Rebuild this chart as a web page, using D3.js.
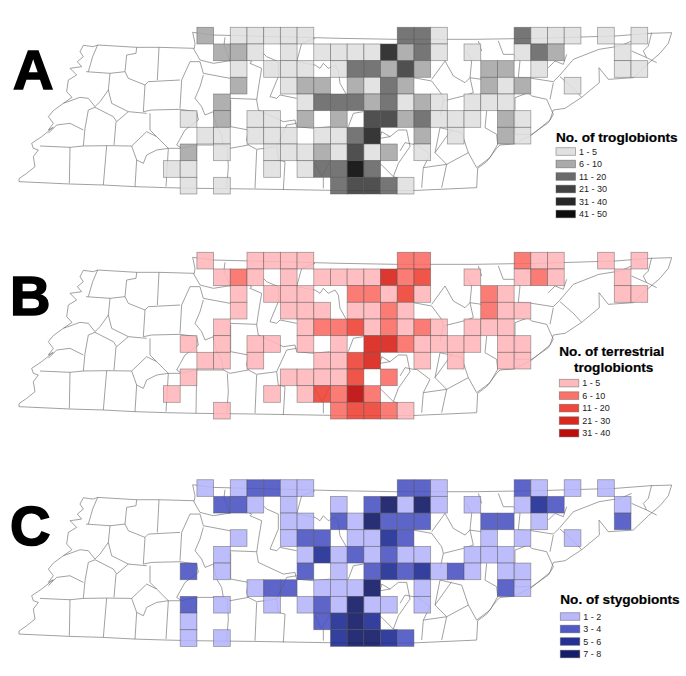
<!DOCTYPE html>
<html>
<head>
<meta charset="utf-8">
<script src="https://d3js.org/d3.v7.min.js"></script>
<style>
  html, body { margin: 0; background: #fff; }
  svg { display: block; }
  text { font-family: "Liberation Sans", Arial, sans-serif; }
</style>
</head>
<body>
<div id="chart"></div>
<script>
// class of each grid square, row by row (0 = no record)
const troglobionts = [
  [0,0,2,0,1,1,1,1,1,0,0,0,0,0,3,3,1,0,0,0,0,3,1,1,1,0,1,0,1],
  [0,0,0,2,2,1,0,1,0,1,1,1,1,5,2,3,1,0,1,0,0,1,3,2,0,0,0,1,0],
  [0,0,0,0,1,0,1,1,1,0,1,3,3,2,4,2,0,0,0,2,2,0,1,0,0,0,0,1,1],
  [0,0,0,0,2,0,0,1,2,2,0,2,1,3,2,0,0,0,0,2,1,2,0,0,1],
  [0,0,0,2,0,0,0,0,1,3,3,3,2,3,1,2,1,0,1,1,1],
  [0,1,0,2,0,1,1,0,2,0,2,0,4,4,2,3,1,1,1,0,2,1],
  [0,0,1,1,0,1,1,1,0,1,1,3,5,0,0,2,0,1,0,0,2,1],
  [0,2,0,1,0,0,1,1,1,2,1,4,1,2,0,1],
  [1,1,0,0,0,0,1,0,1,3,3,6,3],
  [0,1,0,1,0,0,0,0,0,0,3,4,4,3,1]
];
const terrestrial = [
  [0,0,1,0,0,1,1,1,1,0,0,0,0,0,2,2,0,0,0,0,0,2,1,1,0,0,1,0,1],
  [0,0,0,1,2,1,0,1,0,1,1,1,1,4,2,3,0,0,1,0,0,1,2,1,0,0,0,1],
  [0,0,0,0,1,0,1,1,1,0,0,2,2,1,3,1,0,0,0,2,1,0,0,0,0,0,0,1,1],
  [0,0,0,0,1,0,0,1,1,1,0,1,1,2,1,0,0,0,0,2,1,1],
  [0,0,0,1,0,0,0,0,1,2,2,3,1,2,1,2,1,0,1,1,1],
  [0,1,0,1,0,1,1,0,1,0,1,0,4,4,2,1,1,1,1,0,1,1],
  [0,0,1,1,0,1,0,0,0,1,1,3,4,0,0,1,0,1,0,0,1,1],
  [0,1,0,0,0,0,0,1,1,1,1,3,0,2],
  [1,0,0,0,0,0,1,0,1,3,2,5,2],
  [0,0,0,1,0,0,0,0,0,0,2,3,3,2,1]
];
const stygobionts = [
  [0,0,1,0,1,2,2,1,1,0,0,0,0,0,2,2,1,0,0,0,0,2,1,0,1,0,1],
  [0,0,0,2,2,1,0,1,0,0,1,0,2,4,1,4,1,0,1,0,0,1,3,2,0,0,0,1],
  [0,0,0,0,0,0,0,1,1,0,2,1,4,2,2,2,0,0,0,2,2,0,1,0,0,0,0,2],
  [0,0,0,0,1,0,0,1,2,2,0,1,1,3,2,0,0,0,0,1,0,1,0,0,1],
  [0,0,0,1,0,0,0,0,1,3,1,2,1,2,1,1,0,0,1,1,1],
  [0,2,0,1,0,0,0,0,2,0,1,0,2,3,2,3,1,2,1,0,1,1],
  [0,0,0,0,0,1,2,2,0,1,1,1,4,0,0,1,0,0,0,0,2,1],
  [0,2,0,1,0,0,1,0,1,2,1,4,1,1,0,1],
  [0,1,0,0,0,0,0,0,0,2,3,4,3],
  [0,1,0,1,0,0,0,0,0,0,3,4,4,3,2]
];

const labelsA = ["1 - 5", "6 - 10", "11 - 20", "21 - 30", "31 - 40", "41 - 50"];
const labelsB = ["1 - 5", "6 - 10", "11 - 20", "21 - 30", "31 - 40"];
const labelsC = ["1 - 2", "3 - 4", "5 - 6", "7 - 8"];

const greys = ["#dfdfdf", "#a5a5a5", "#636363", "#383838", "#1b1b1b", "#000000"];
const reds = ["#ffb6ba", "#fb6a62", "#ee3d30", "#d81c12", "#bb0000"];
const blues = ["#b4b4fa", "#4750c2", "#18268f", "#0a1262"];

// county lines, traced in 3x picture units
const stateLine = [
  [293,75],[280,80],[265,78],[250,76],[240,95],[250,110],[232,125],[245,140],[210,145],[230,165],[205,180],[200,215],[216,232],[190,250],[160,272],[145,290],[160,310],[145,330],[160,322],[125,350],[95,370],[100,385],[115,390],[100,410],[105,440],[80,460],[57,476],[57,485],
  [210,492],[310,495],[405,500],[500,503],[590,505],[760,507],[1050,512],[1230,512],[1430,503],[1433,445],[1460,425],[1490,385],[1500,375],[1540,372],[1595,345],[1650,300],[1660,270],[1695,265],[1745,232],[1798,188],[1797,143],[1825,178],[1900,173],[1945,130],[1980,100],[2005,70],[2015,38],
  [1950,40],[1845,48],[1610,55],[1420,58],[1190,58],[1020,55],[640,45],[578,37],[585,70],[583,85],[477,82],[410,82],[293,75]
];
const countyLines = [
  [[293,75],[278,110],[265,155]],
  [[258,155],[330,160],[375,155],[385,175],[435,195],[445,185],[540,180]],
  [[410,82],[408,100],[380,105],[375,155]],
  [[477,82],[472,180]],
  [[580,85],[600,120],[640,130],[690,122]],
  [[570,125],[600,125],[610,160],[690,175]],
  [[570,125],[545,180],[540,265]],
  [[610,165],[600,200],[585,235],[605,260],[615,285],[640,275]],
  [[330,160],[325,210],[335,250],[385,275],[440,280]],
  [[325,210],[300,245],[285,260],[265,235],[240,232],[190,250]],
  [[435,195],[430,275],[455,270],[540,268],[590,275]],
  [[285,262],[340,290],[350,305],[385,275]],
  [[285,262],[265,270],[255,325],[250,378]],
  [[348,305],[342,375]],
  [[145,340],[170,315],[210,310],[250,330]],
  [[120,378],[210,382],[250,378],[320,377],[395,378]],
  [[210,382],[208,490]],
  [[320,377],[310,495]],
  [[395,378],[410,420],[405,500]],
  [[395,378],[440,335],[470,350],[505,385]],
  [[450,280],[450,330],[470,350]],
  [[410,420],[430,430],[440,405],[470,390],[505,385],[540,385]],
  [[505,385],[498,500]],
  [[590,275],[595,300],[555,330],[530,375],[545,385],[590,375],[670,375]],
  [[590,375],[588,505]],
  [[640,275],[650,320],[665,345],[670,375],[690,385],[745,375]],
  [[690,235],[770,238]],
  [[692,240],[692,320],[745,330],[740,360],[745,375]],
  [[682,385],[685,440],[680,505]],
  [[745,375],[770,388],[830,380],[835,420],[855,425],[850,510]],
  [[770,390],[765,505]],
  [[830,380],[860,315],[890,310]],
  [[770,240],[775,270],[850,305],[885,300],[890,320],[940,325],[990,320]],
  [[785,145],[750,130],[755,125],[745,120]],
  [[785,145],[775,205],[770,240]],
  [[790,100],[800,110],[835,125],[835,170],[810,230],[830,235],[840,225],[890,235]],
  [[675,52],[672,75],[690,125]],
  [[945,55],[905,70],[890,125]],
  [[890,125],[945,135],[960,145],[970,130],[985,145],[1005,135],[1015,150],[1020,190],[1040,225]],
  [[945,430],[965,470],[990,425]],
  [[970,470],[970,505]],
  [[1045,320],[1060,280],[1090,275]],
  [[1145,335],[1140,355],[1170,350],[1195,330],[1220,330],[1230,380],[1195,430],[1180,470],[1195,475]],
  [[1140,430],[1180,470]],
  [[1240,173],[1295,183],[1325,223],[1330,243],[1390,228],[1420,218]],
  [[1330,243],[1320,290]],
  [[1295,178],[1335,123],[1360,168],[1395,188],[1410,173],[1445,178]],
  [[1400,93],[1415,123],[1410,173],[1420,218]],
  [[1435,63],[1445,93]],
  [[1495,63],[1510,103],[1540,103],[1560,122],[1555,173]],
  [[1555,173],[1595,175],[1660,185]],
  [[1545,233],[1585,218],[1595,228],[1640,238],[1660,283],[1645,308],[1595,343],[1545,343],[1545,273],[1545,233]],
  [[1660,188],[1650,238]],
  [[1660,185],[1680,165],[1720,118],[1797,88],[1860,78],[1895,63]],
  [[1680,170],[1720,205],[1745,232]],
  [[1645,143],[1665,123],[1690,133],[1700,103]],
  [[1940,113],[1930,93],[1945,78],[1955,38]],
  [[1895,93],[1940,113],[1970,128]],
  [[1460,273],[1455,323],[1490,343],[1493,373],[1470,413],[1430,443]],
  [[1405,398],[1430,443]],
  [[1405,398],[1385,338],[1320,323]],
  [[1355,328],[1305,398],[1340,433],[1405,398]],
  [[1340,433],[1325,503]],
  [[1340,433],[1270,443],[1265,503]],
  [[1270,443],[1290,403],[1250,373]],
  [[1305,398],[1320,323]],
  [[1200,393],[1215,368],[1240,373],[1250,373]],
  [[1145,335],[1170,350]]
];

const width = 686, height = 676;
const svg = d3.select("#chart").append("svg").attr("width", width).attr("height", height);

const x = d3.scaleLinear().domain([0, 29]).range([163.5, 647.7]);
const y = d3.scaleLinear().domain([0, 10]).range([0, 166.7]);

const baseMap = {
  type: "MultiLineString",
  coordinates: [stateLine].concat(countyLines)
};

// one panel: base map, squares, letter and legend
function panel(opt) {
  const g = svg.append("g");
  const color = d3.scaleOrdinal().domain(d3.range(1, opt.colors.length + 1)).range(opt.colors);

  const projection = d3.geoIdentity().scale(1 / 3).translate([0, opt.mapTop]);
  g.append("path")
    .attr("d", d3.geoPath(projection)(baseMap))
    .attr("fill", "none")
    .attr("stroke", "#6e6e6e")
    .attr("stroke-width", 0.65);

  const cells = [];
  opt.data.forEach(function (row, r) {
    row.forEach(function (v, c) {
      if (v > 0) cells.push({ r: r, c: c, v: v });
    });
  });

  g.selectAll("rect.cell").data(cells).enter().append("rect")
    .attr("class", "cell")
    .attr("x", d => x(d.c))
    .attr("y", d => opt.top + y(d.r))
    .attr("width", x(1) - x(0))
    .attr("height", y(1) - y(0))
    .attr("fill", d => color(d.v))
    .attr("fill-opacity", 0.88)
    .attr("stroke", "#555")
    .attr("stroke-opacity", 0.55)
    .attr("stroke-width", 0.8);

  g.append("text")
    .attr("x", opt.letterX)
    .attr("y", opt.letterY)
    .attr("font-size", 56)
    .attr("font-weight", "bold")
    .attr("stroke", "#000")
    .attr("stroke-width", 1.6)
    .text(opt.letter);

  opt.title.forEach(function (t) {
    g.append("text")
      .attr("x", t.x)
      .attr("y", t.y)
      .attr("font-size", 13.6)
      .attr("font-weight", "bold")
      .attr("stroke", "#000")
      .attr("stroke-width", 0.2)
      .text(t.text);
  });

  const rows = g.selectAll("g.key").data(opt.labels).enter().append("g")
    .attr("class", "key")
    .attr("transform", (d, i) => "translate(" + opt.keyX + "," + (opt.keyY + i * 12.5) + ")");
  rows.append("rect")
    .attr("width", 19.5)
    .attr("height", 7.6)
    .attr("fill", (d, i) => opt.colors[i])
    .attr("fill-opacity", 0.95)
    .attr("stroke", "#555")
    .attr("stroke-opacity", 0.55)
    .attr("stroke-width", 0.8);
  rows.append("text")
    .attr("x", 23)
    .attr("y", 7)
    .attr("font-size", 9)
    .attr("fill", "#222")
    .text(d => d);
}

panel({
  letter: "A", letterX: 13, letterY: 89, top: 27.3, mapTop: 20,
  data: troglobionts, colors: greys, labels: labelsA,
  title: [{ text: "No. of troglobionts", x: 556, y: 141.7 }],
  keyX: 556, keyY: 147.7
});
panel({
  letter: "B", letterX: 10, letterY: 315, top: 252.3, mapTop: 245,
  data: terrestrial, colors: reds, labels: labelsB,
  title: [
    { text: "No. of terrestrial", x: 559.3, y: 355.7 },
    { text: "troglobionts", x: 574, y: 371.7 }
  ],
  keyX: 559.3, keyY: 379.3
});
panel({
  letter: "C", letterX: 10, letterY: 545, top: 479.7, mapTop: 472.4,
  data: stygobionts, colors: blues, labels: labelsC,
  title: [{ text: "No. of stygobionts", x: 560.3, y: 604.3 }],
  keyX: 560.3, keyY: 612.7
});
</script>
</body>
</html>
